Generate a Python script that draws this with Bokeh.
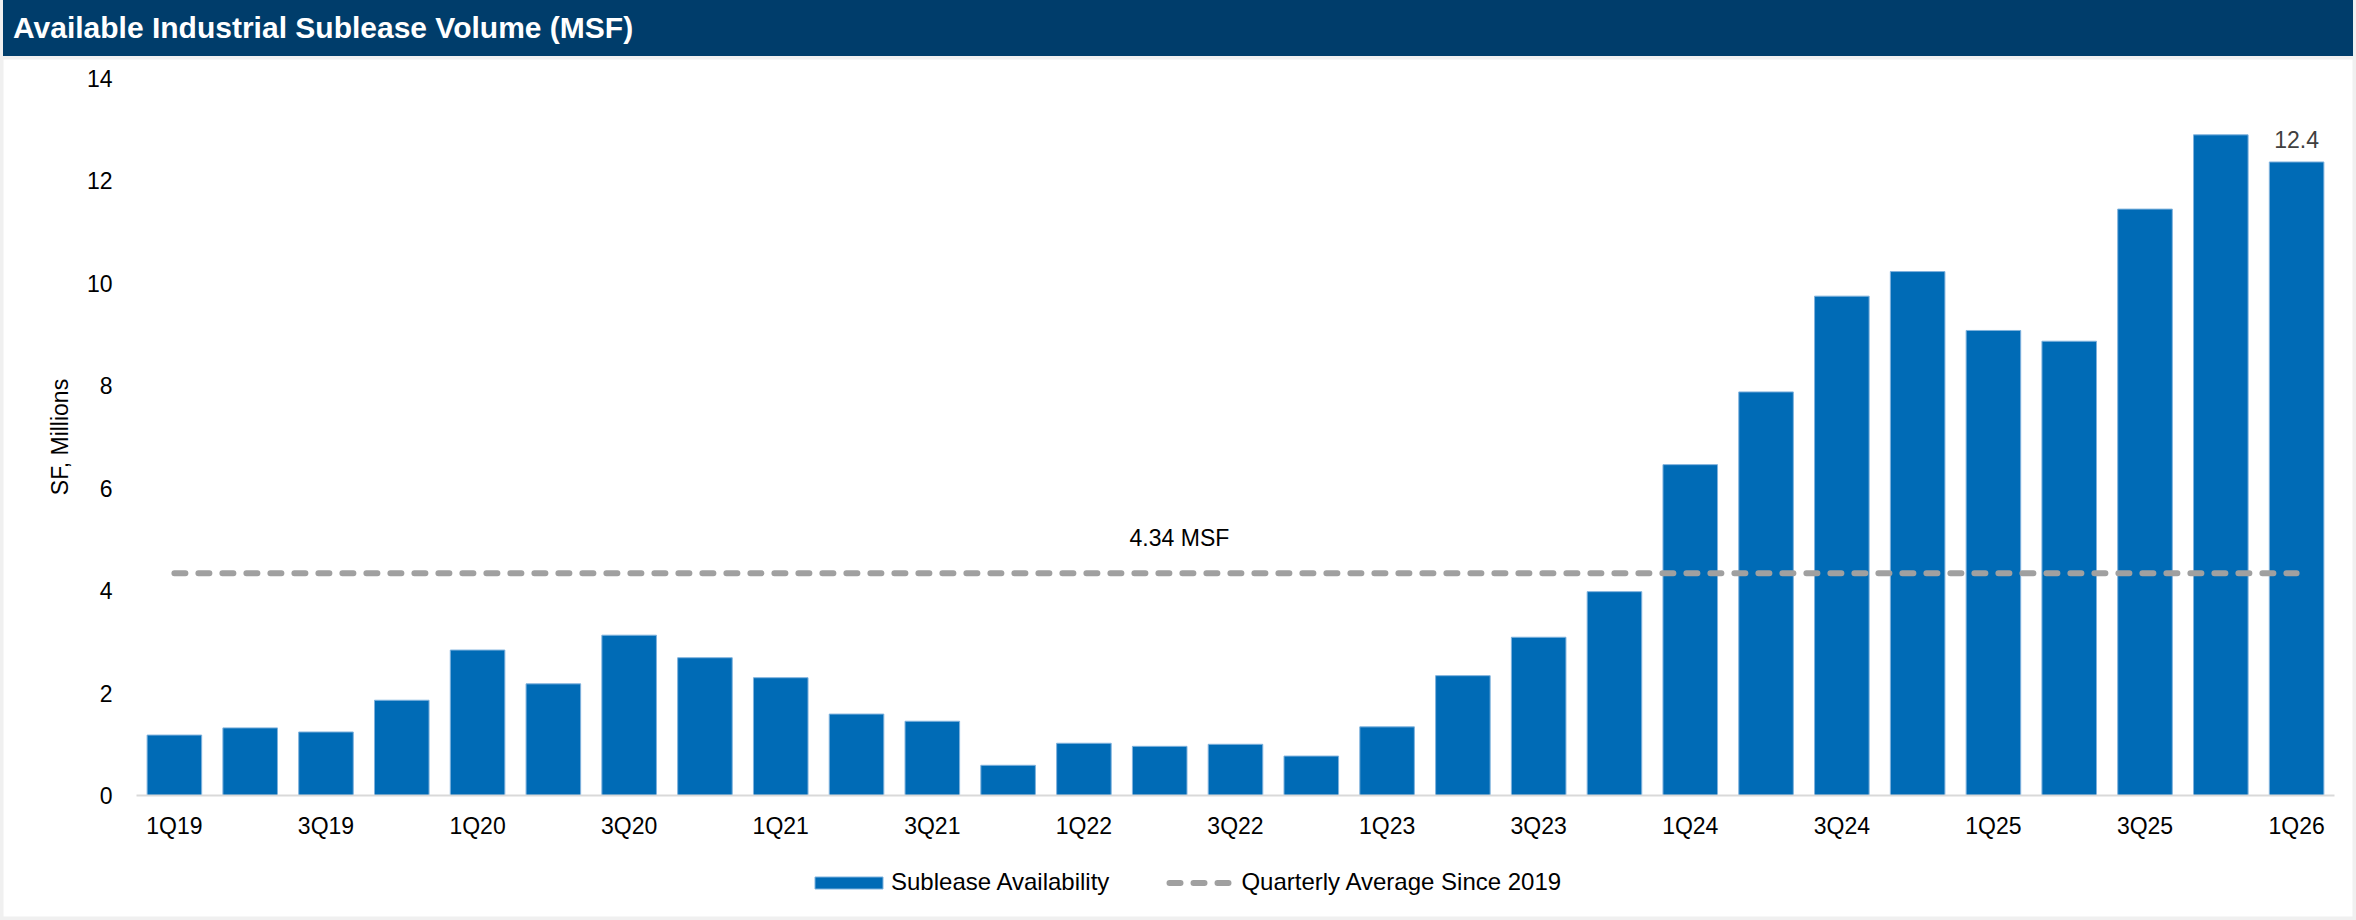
from bokeh.plotting import figure
from bokeh.models import ColumnDataSource, Range1d, FixedTicker, Legend, LegendItem, Label, Div
from bokeh.layouts import column
from bokeh.embed import file_html
from bokeh.resources import INLINE

# ---- data ----
quarters = ["1Q19", "2Q19", "3Q19", "4Q19",
            "1Q20", "2Q20", "3Q20", "4Q20",
            "1Q21", "2Q21", "3Q21", "4Q21",
            "1Q22", "2Q22", "3Q22", "4Q22",
            "1Q23", "2Q23", "3Q23", "4Q23",
            "1Q24", "2Q24", "3Q24", "4Q24",
            "1Q25", "2Q25", "3Q25", "4Q25",
            "1Q26"]
sublease_msf = [1.18, 1.32, 1.24, 1.86,
                2.84, 2.18, 3.13, 2.69,
                2.30, 1.59, 1.45, 0.59,
                1.02, 0.96, 1.00, 0.77,
                1.34, 2.34, 3.09, 3.98,
                6.46, 7.88, 9.75, 10.23,
                9.08, 8.87, 11.45, 12.90,
                12.37]
quarterly_avg = 4.34
y_ticks = [0, 2, 4, 6, 8, 10, 12, 14]
title_text = "Available Industrial Sublease Volume (MSF)"
y_title = "SF, Millions"
bar_name = "Sublease Availability"
avg_name = "Quarterly Average Since 2019"

FONT = "Liberation Sans"
BAR = "#006BB6"
GREY = "#A0A0A0"

# ---- layout geometry (pixels) ----
W, H = 2356, 864
PLOT_L, PLOT_R, PLOT_T, PLOT_B = 136, 2334, 22, 739   # plotting area inside the figure
n = len(quarters)
ppx = (PLOT_R - PLOT_L) / n
ppy = (PLOT_B - PLOT_T) / (y_ticks[-1] - y_ticks[0])
x0, x1 = -0.5, n - 0.5
x_range = Range1d(x0 - PLOT_L / ppx, x1 + (W - PLOT_R) / ppx)
y_range = Range1d(y_ticks[0] - (H - PLOT_B) / ppy, y_ticks[-1] + PLOT_T / ppy)

idx = list(range(n))
src = ColumnDataSource(dict(x=idx, top=sublease_msf, q=quarters))
avg_src = ColumnDataSource(dict(x=[idx[0], idx[-1]], y=[quarterly_avg, quarterly_avg]))

p = figure(width=W, height=H, x_range=x_range, y_range=y_range,
           output_backend="svg", toolbar_location=None,
           min_border=0, min_border_left=0, min_border_right=0,
           min_border_top=0, min_border_bottom=0)
p.outline_line_color = "#F0F0F0"
p.outline_line_width = 6
p.xgrid.grid_line_color = None
p.ygrid.grid_line_color = None
p.background_fill_color = "white"
p.border_fill_color = "white"

bars = p.vbar(x="x", top="top", width=0.72, source=src,
              fill_color=BAR, line_color="#7FB2DD", line_width=1)

avg_line = p.line(x="x", y="y", source=avg_src,
                  line_color=GREY, line_width=6, line_dash="11 13",
                  line_cap="round")
# same series, only used for the legend swatch (dash pattern starts with a gap)
avg_key = p.line(x="x", y="y", source=avg_src,
                 line_color=GREY, line_width=6, line_dash="11 13",
                 line_dash_offset=11, line_cap="round", visible=False)

# axes (pinned inside the frame)
xa = p.xaxis[0]
xa.fixed_location = y_ticks[0]
xa.bounds = (x0, x1)
xa.ticker = FixedTicker(ticks=idx[::2])
xa.major_label_overrides = {i: quarters[i] for i in idx}
xa.axis_line_color = "#D9D9D9"
xa.axis_line_width = 2
xa.major_tick_line_color = None
xa.minor_tick_line_color = None
xa.major_label_standoff = 11
xa.major_label_text_font = FONT
xa.major_label_text_font_size = "23px"
xa.major_label_text_color = "#000000"

ya = p.yaxis[0]
ya.fixed_location = x0
ya.bounds = (y_ticks[0], y_ticks[-1])
ya.ticker = FixedTicker(ticks=y_ticks)
ya.axis_line_color = None
ya.major_tick_line_color = None
ya.minor_tick_line_color = None
ya.major_label_standoff = 18
ya.major_label_text_font = FONT
ya.major_label_text_font_size = "23px"
ya.major_label_text_color = "#000000"
ya.axis_label = y_title
ya.axis_label_text_font = FONT
ya.axis_label_text_font_style = "normal"
ya.axis_label_text_font_size = "23px"
ya.axis_label_text_color = "#000000"
ya.axis_label_standoff = 11

# annotations
p.add_layout(Label(x=13.26, y=quarterly_avg + 0.68, text=f"{quarterly_avg:.2f} MSF",
                   text_align="center", text_baseline="middle",
                   text_font=FONT, text_font_size="23px", text_color="#000000"))
p.add_layout(Label(x=idx[-1], y=sublease_msf[-1], y_offset=14,
                   text=f"{sublease_msf[-1]:.1f}",
                   text_align="center", text_baseline="bottom",
                   text_font=FONT, text_font_size="23px", text_color="#404040"))

legend = Legend(items=[LegendItem(label=bar_name, renderers=[bars]),
                       LegendItem(label=avg_name, renderers=[avg_key])],
                orientation="horizontal", location=(806, 24),
                glyph_width=85, glyph_height=15, label_standoff=0, spacing=47,
                padding=0, margin=0, border_line_color=None,
                background_fill_alpha=0, click_policy="none",
                inactive_fill_alpha=0,
                label_text_font=FONT, label_text_font_size="24px",
                label_text_color="#000000")
p.add_layout(legend, "center")

title = Div(text=(
    '<div style="background:#003D6B;color:#FFFFFF;font-family:\'Liberation Sans\';'
    'font-weight:bold;font-size:30px;height:56px;line-height:56px;'
    'padding-left:10px;width:2356px;box-sizing:border-box;'
    'border-left:3px solid #F0F0F0;border-right:3px solid #F0F0F0;">'
    + title_text + '</div>'), width=W, height=56, margin=(0, 0, 0, 0))

layout = column(title, p, spacing=0, margin=(0, 0, 0, 0))
open("out.html", "w").write(file_html(layout, INLINE))
